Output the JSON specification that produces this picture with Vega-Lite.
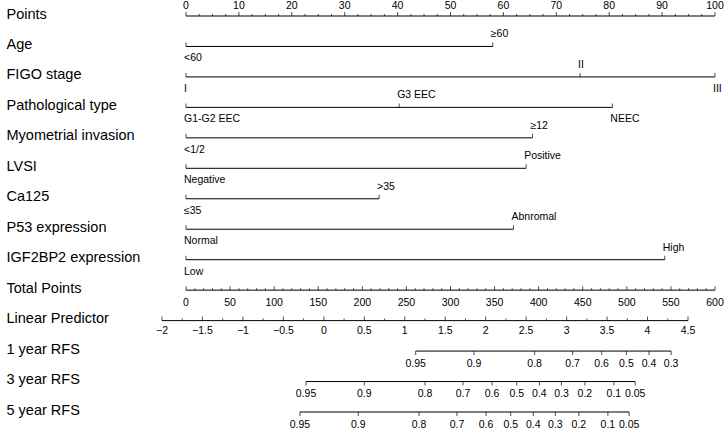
{
  "$schema": "https://vega.github.io/schema/vega-lite/v6.json",
  "width": 529,
  "height": 396,
  "autosize": {"type": "none"},
  "padding": {"left": 186, "top": 16, "right": 10, "bottom": 17},
  "background": "white",
  "config": {
    "view": {"stroke": null},
    "font": "Liberation Sans",
    "text": {"font": "Liberation Sans", "fontSize": 10.5, "color": "#000"},
    "axisY": {
      "domain": false, "ticks": false, "tickSize": 0, "grid": false,
      "labelAlign": "left", "labelPadding": 180, "labelFontSize": 14.5,
      "labelFont": "Liberation Sans", "labelColor": "#000", "labelBaseline": "middle",
      "labelLimit": 300, "title": null, "labelOffset": -2
    }
  },
  "datasets": {
    "factors": [
      {"row": "Age", "lab": "<60", "pts": 0, "side": "below"},
      {"row": "Age", "lab": "≥60", "pts": 58, "side": "above"},
      {"row": "FIGO stage", "lab": "I", "pts": 0, "side": "below"},
      {"row": "FIGO stage", "lab": "II", "pts": 74.5, "side": "above"},
      {"row": "FIGO stage", "lab": "III", "pts": 100, "side": "below"},
      {"row": "Pathological type", "lab": "G1-G2 EEC", "pts": 0, "side": "below"},
      {"row": "Pathological type", "lab": "G3 EEC", "pts": 40.3, "side": "above"},
      {"row": "Pathological type", "lab": "NEEC", "pts": 80.6, "side": "below"},
      {"row": "Myometrial invasion", "lab": "<1/2", "pts": 0, "side": "below"},
      {"row": "Myometrial invasion", "lab": "≥12", "pts": 65.5, "side": "above"},
      {"row": "LVSI", "lab": "Negative", "pts": 0, "side": "below"},
      {"row": "LVSI", "lab": "Positive", "pts": 64.3, "side": "above"},
      {"row": "Ca125", "lab": "≤35", "pts": 0, "side": "below"},
      {"row": "Ca125", "lab": ">35", "pts": 36.5, "side": "above"},
      {"row": "P53 expression", "lab": "Normal", "pts": 0, "side": "below"},
      {"row": "P53 expression", "lab": "Abnromal", "pts": 61.9, "side": "above"},
      {"row": "IGF2BP2 expression", "lab": "Low", "pts": 0, "side": "below"},
      {"row": "IGF2BP2 expression", "lab": "High", "pts": 90.5, "side": "above"}
    ],
    "ptsTicks": [
      {"row": "Points", "pts": 0, "lab": "0"}, {"row": "Points", "pts": 2.5, "lab": ""}, {"row": "Points", "pts": 5, "lab": ""}, {"row": "Points", "pts": 7.5, "lab": ""},
      {"row": "Points", "pts": 10, "lab": "10"}, {"row": "Points", "pts": 12.5, "lab": ""}, {"row": "Points", "pts": 15, "lab": ""}, {"row": "Points", "pts": 17.5, "lab": ""},
      {"row": "Points", "pts": 20, "lab": "20"}, {"row": "Points", "pts": 22.5, "lab": ""}, {"row": "Points", "pts": 25, "lab": ""}, {"row": "Points", "pts": 27.5, "lab": ""},
      {"row": "Points", "pts": 30, "lab": "30"}, {"row": "Points", "pts": 32.5, "lab": ""}, {"row": "Points", "pts": 35, "lab": ""}, {"row": "Points", "pts": 37.5, "lab": ""},
      {"row": "Points", "pts": 40, "lab": "40"}, {"row": "Points", "pts": 42.5, "lab": ""}, {"row": "Points", "pts": 45, "lab": ""}, {"row": "Points", "pts": 47.5, "lab": ""},
      {"row": "Points", "pts": 50, "lab": "50"}, {"row": "Points", "pts": 52.5, "lab": ""}, {"row": "Points", "pts": 55, "lab": ""}, {"row": "Points", "pts": 57.5, "lab": ""},
      {"row": "Points", "pts": 60, "lab": "60"}, {"row": "Points", "pts": 62.5, "lab": ""}, {"row": "Points", "pts": 65, "lab": ""}, {"row": "Points", "pts": 67.5, "lab": ""},
      {"row": "Points", "pts": 70, "lab": "70"}, {"row": "Points", "pts": 72.5, "lab": ""}, {"row": "Points", "pts": 75, "lab": ""}, {"row": "Points", "pts": 77.5, "lab": ""},
      {"row": "Points", "pts": 80, "lab": "80"}, {"row": "Points", "pts": 82.5, "lab": ""}, {"row": "Points", "pts": 85, "lab": ""}, {"row": "Points", "pts": 87.5, "lab": ""},
      {"row": "Points", "pts": 90, "lab": "90"}, {"row": "Points", "pts": 92.5, "lab": ""}, {"row": "Points", "pts": 95, "lab": ""}, {"row": "Points", "pts": 97.5, "lab": ""},
      {"row": "Points", "pts": 100, "lab": "100"}
    ],
    "tpTicks": [
      {"row": "Total Points", "tp": 0, "lab": "0"}, {"row": "Total Points", "tp": 10, "lab": ""}, {"row": "Total Points", "tp": 20, "lab": ""}, {"row": "Total Points", "tp": 30, "lab": ""}, {"row": "Total Points", "tp": 40, "lab": ""},
      {"row": "Total Points", "tp": 50, "lab": "50"}, {"row": "Total Points", "tp": 60, "lab": ""}, {"row": "Total Points", "tp": 70, "lab": ""}, {"row": "Total Points", "tp": 80, "lab": ""}, {"row": "Total Points", "tp": 90, "lab": ""},
      {"row": "Total Points", "tp": 100, "lab": "100"}, {"row": "Total Points", "tp": 110, "lab": ""}, {"row": "Total Points", "tp": 120, "lab": ""}, {"row": "Total Points", "tp": 130, "lab": ""}, {"row": "Total Points", "tp": 140, "lab": ""},
      {"row": "Total Points", "tp": 150, "lab": "150"}, {"row": "Total Points", "tp": 160, "lab": ""}, {"row": "Total Points", "tp": 170, "lab": ""}, {"row": "Total Points", "tp": 180, "lab": ""}, {"row": "Total Points", "tp": 190, "lab": ""},
      {"row": "Total Points", "tp": 200, "lab": "200"}, {"row": "Total Points", "tp": 210, "lab": ""}, {"row": "Total Points", "tp": 220, "lab": ""}, {"row": "Total Points", "tp": 230, "lab": ""}, {"row": "Total Points", "tp": 240, "lab": ""},
      {"row": "Total Points", "tp": 250, "lab": "250"}, {"row": "Total Points", "tp": 260, "lab": ""}, {"row": "Total Points", "tp": 270, "lab": ""}, {"row": "Total Points", "tp": 280, "lab": ""}, {"row": "Total Points", "tp": 290, "lab": ""},
      {"row": "Total Points", "tp": 300, "lab": "300"}, {"row": "Total Points", "tp": 310, "lab": ""}, {"row": "Total Points", "tp": 320, "lab": ""}, {"row": "Total Points", "tp": 330, "lab": ""}, {"row": "Total Points", "tp": 340, "lab": ""},
      {"row": "Total Points", "tp": 350, "lab": "350"}, {"row": "Total Points", "tp": 360, "lab": ""}, {"row": "Total Points", "tp": 370, "lab": ""}, {"row": "Total Points", "tp": 380, "lab": ""}, {"row": "Total Points", "tp": 390, "lab": ""},
      {"row": "Total Points", "tp": 400, "lab": "400"}, {"row": "Total Points", "tp": 410, "lab": ""}, {"row": "Total Points", "tp": 420, "lab": ""}, {"row": "Total Points", "tp": 430, "lab": ""}, {"row": "Total Points", "tp": 440, "lab": ""},
      {"row": "Total Points", "tp": 450, "lab": "450"}, {"row": "Total Points", "tp": 460, "lab": ""}, {"row": "Total Points", "tp": 470, "lab": ""}, {"row": "Total Points", "tp": 480, "lab": ""}, {"row": "Total Points", "tp": 490, "lab": ""},
      {"row": "Total Points", "tp": 500, "lab": "500"}, {"row": "Total Points", "tp": 510, "lab": ""}, {"row": "Total Points", "tp": 520, "lab": ""}, {"row": "Total Points", "tp": 530, "lab": ""}, {"row": "Total Points", "tp": 540, "lab": ""},
      {"row": "Total Points", "tp": 550, "lab": "550"}, {"row": "Total Points", "tp": 560, "lab": ""}, {"row": "Total Points", "tp": 570, "lab": ""}, {"row": "Total Points", "tp": 580, "lab": ""}, {"row": "Total Points", "tp": 590, "lab": ""},
      {"row": "Total Points", "tp": 600, "lab": "600"}
    ],
    "lpTicks": [
      {"row": "Linear Predictor", "lp": -2, "lab": "−2"}, {"row": "Linear Predictor", "lp": -1.75, "lab": ""},
      {"row": "Linear Predictor", "lp": -1.5, "lab": "−1.5"}, {"row": "Linear Predictor", "lp": -1.25, "lab": ""},
      {"row": "Linear Predictor", "lp": -1, "lab": "−1"}, {"row": "Linear Predictor", "lp": -0.75, "lab": ""},
      {"row": "Linear Predictor", "lp": -0.5, "lab": "−0.5"}, {"row": "Linear Predictor", "lp": -0.25, "lab": ""},
      {"row": "Linear Predictor", "lp": 0, "lab": "0"}, {"row": "Linear Predictor", "lp": 0.25, "lab": ""},
      {"row": "Linear Predictor", "lp": 0.5, "lab": "0.5"}, {"row": "Linear Predictor", "lp": 0.75, "lab": ""},
      {"row": "Linear Predictor", "lp": 1, "lab": "1"}, {"row": "Linear Predictor", "lp": 1.25, "lab": ""},
      {"row": "Linear Predictor", "lp": 1.5, "lab": "1.5"}, {"row": "Linear Predictor", "lp": 1.75, "lab": ""},
      {"row": "Linear Predictor", "lp": 2, "lab": "2"}, {"row": "Linear Predictor", "lp": 2.25, "lab": ""},
      {"row": "Linear Predictor", "lp": 2.5, "lab": "2.5"}, {"row": "Linear Predictor", "lp": 2.75, "lab": ""},
      {"row": "Linear Predictor", "lp": 3, "lab": "3"}, {"row": "Linear Predictor", "lp": 3.25, "lab": ""},
      {"row": "Linear Predictor", "lp": 3.5, "lab": "3.5"}, {"row": "Linear Predictor", "lp": 3.75, "lab": ""},
      {"row": "Linear Predictor", "lp": 4, "lab": "4"}, {"row": "Linear Predictor", "lp": 4.25, "lab": ""},
      {"row": "Linear Predictor", "lp": 4.5, "lab": "4.5"}
    ],
    "rfs": [
      {"row": "1 year RFS", "lab": "0.95", "lp": 1.135}, {"row": "1 year RFS", "lab": "0.9", "lp": 1.855},
      {"row": "1 year RFS", "lab": "0.8", "lp": 2.605}, {"row": "1 year RFS", "lab": "0.7", "lp": 3.074},
      {"row": "1 year RFS", "lab": "0.6", "lp": 3.433}, {"row": "1 year RFS", "lab": "0.5", "lp": 3.739},
      {"row": "1 year RFS", "lab": "0.4", "lp": 4.018}, {"row": "1 year RFS", "lab": "0.3", "lp": 4.291},
      {"row": "3 year RFS", "lab": "0.95", "lp": -0.22}, {"row": "3 year RFS", "lab": "0.9", "lp": 0.5},
      {"row": "3 year RFS", "lab": "0.8", "lp": 1.25}, {"row": "3 year RFS", "lab": "0.7", "lp": 1.719},
      {"row": "3 year RFS", "lab": "0.6", "lp": 2.078}, {"row": "3 year RFS", "lab": "0.5", "lp": 2.384},
      {"row": "3 year RFS", "lab": "0.4", "lp": 2.663}, {"row": "3 year RFS", "lab": "0.3", "lp": 2.936},
      {"row": "3 year RFS", "lab": "0.2", "lp": 3.226}, {"row": "3 year RFS", "lab": "0.1", "lp": 3.584},
      {"row": "3 year RFS", "lab": "0.05", "lp": 3.847},
      {"row": "5 year RFS", "lab": "0.95", "lp": -0.295}, {"row": "5 year RFS", "lab": "0.9", "lp": 0.425},
      {"row": "5 year RFS", "lab": "0.8", "lp": 1.176}, {"row": "5 year RFS", "lab": "0.7", "lp": 1.645},
      {"row": "5 year RFS", "lab": "0.6", "lp": 2.004}, {"row": "5 year RFS", "lab": "0.5", "lp": 2.309},
      {"row": "5 year RFS", "lab": "0.4", "lp": 2.588}, {"row": "5 year RFS", "lab": "0.3", "lp": 2.861},
      {"row": "5 year RFS", "lab": "0.2", "lp": 3.151}, {"row": "5 year RFS", "lab": "0.1", "lp": 3.51},
      {"row": "5 year RFS", "lab": "0.05", "lp": 3.773}
    ]
  },
  "encoding": {
    "y": {
      "field": "row", "type": "nominal", "title": null,
      "scale": {"type": "point", "padding": 0, "domain": ["Points", "Age", "FIGO stage", "Pathological type", "Myometrial invasion", "LVSI", "Ca125", "P53 expression", "IGF2BP2 expression", "Total Points", "Linear Predictor", "1 year RFS", "3 year RFS", "5 year RFS"]}
    }
  },
  "layer": [
    {
      "layer": [
        {
          "data": {"name": "ptsTicks"},
          "mark": {"type": "rule", "color": "#000", "strokeWidth": 1},
          "encoding": {
            "x": {"aggregate": "min", "field": "pts", "type": "quantitative", "axis": null, "scale": {"domain": [0, 100], "nice": false, "zero": false}},
            "x2": {"aggregate": "max", "field": "pts"}
          }
        },
        {
          "data": {"name": "ptsTicks"},
          "transform": [{"filter": "datum.lab != ''"}],
          "mark": {"type": "tick", "color": "#000", "thickness": 1, "size": 4, "yOffset": -2},
          "encoding": {"x": {"field": "pts", "type": "quantitative", "axis": null, "scale": {"domain": [0, 100], "nice": false, "zero": false}}}
        },
        {
          "data": {"name": "ptsTicks"},
          "transform": [{"filter": "datum.lab == ''"}],
          "mark": {"type": "tick", "color": "#000", "thickness": 1, "size": 2, "yOffset": -1},
          "encoding": {"x": {"field": "pts", "type": "quantitative", "axis": null, "scale": {"domain": [0, 100], "nice": false, "zero": false}}}
        },
        {
          "data": {"name": "ptsTicks"},
          "transform": [{"filter": "datum.lab != ''"}],
          "mark": {"type": "text", "align": "center", "baseline": "middle", "dy": -10},
          "encoding": {"x": {"field": "pts", "type": "quantitative", "axis": null, "scale": {"domain": [0, 100], "nice": false, "zero": false}}, "text": {"field": "lab"}}
        },
        {
          "data": {"name": "factors"},
          "mark": {"type": "rule", "color": "#000", "strokeWidth": 1},
          "encoding": {
            "x": {"aggregate": "min", "field": "pts", "type": "quantitative", "axis": null, "scale": {"domain": [0, 100], "nice": false, "zero": false}},
            "x2": {"aggregate": "max", "field": "pts"}
          }
        },
        {
          "data": {"name": "factors"},
          "mark": {"type": "tick", "color": "#000", "thickness": 1, "size": 4, "yOffset": -2},
          "encoding": {"x": {"field": "pts", "type": "quantitative", "axis": null, "scale": {"domain": [0, 100], "nice": false, "zero": false}}}
        },
        {
          "data": {"name": "factors"},
          "transform": [{"filter": "datum.side == 'below'"}],
          "mark": {"type": "text", "align": "left", "baseline": "middle", "dy": 12, "dx": -2},
          "encoding": {"x": {"field": "pts", "type": "quantitative", "axis": null, "scale": {"domain": [0, 100], "nice": false, "zero": false}}, "text": {"field": "lab"}}
        },
        {
          "data": {"name": "factors"},
          "transform": [{"filter": "datum.side == 'above'"}],
          "mark": {"type": "text", "align": "left", "baseline": "middle", "dy": -12, "dx": -2},
          "encoding": {"x": {"field": "pts", "type": "quantitative", "axis": null, "scale": {"domain": [0, 100], "nice": false, "zero": false}}, "text": {"field": "lab"}}
        }
      ]
    },
    {
      "data": {"name": "tpTicks"},
      "layer": [
        {
          "mark": {"type": "rule", "color": "#000", "strokeWidth": 1},
          "encoding": {
            "x": {"aggregate": "min", "field": "tp", "type": "quantitative", "axis": null, "scale": {"domain": [0, 600], "nice": false, "zero": false}},
            "x2": {"aggregate": "max", "field": "tp"}
          }
        },
        {
          "transform": [{"filter": "datum.lab != ''"}],
          "mark": {"type": "tick", "color": "#000", "thickness": 1, "size": 4, "yOffset": -2},
          "encoding": {"x": {"field": "tp", "type": "quantitative", "axis": null, "scale": {"domain": [0, 600], "nice": false, "zero": false}}}
        },
        {
          "transform": [{"filter": "datum.lab == ''"}],
          "mark": {"type": "tick", "color": "#000", "thickness": 1, "size": 2, "yOffset": -1},
          "encoding": {"x": {"field": "tp", "type": "quantitative", "axis": null, "scale": {"domain": [0, 600], "nice": false, "zero": false}}}
        },
        {
          "transform": [{"filter": "datum.lab != ''"}],
          "mark": {"type": "text", "align": "center", "baseline": "middle", "dy": 12.5},
          "encoding": {"x": {"field": "tp", "type": "quantitative", "axis": null, "scale": {"domain": [0, 600], "nice": false, "zero": false}}, "text": {"field": "lab"}}
        }
      ]
    },
    {
      "layer": [
        {
          "data": {"name": "lpTicks"},
          "mark": {"type": "rule", "color": "#000", "strokeWidth": 1},
          "encoding": {
            "x": {"aggregate": "min", "field": "lp", "type": "quantitative", "axis": null, "scale": {"domain": [-1.7034, 4.8336], "nice": false, "zero": false}},
            "x2": {"aggregate": "max", "field": "lp"}
          }
        },
        {
          "data": {"name": "lpTicks"},
          "transform": [{"filter": "datum.lab != ''"}],
          "mark": {"type": "tick", "color": "#000", "thickness": 1, "size": 4, "yOffset": -2},
          "encoding": {"x": {"field": "lp", "type": "quantitative", "axis": null, "scale": {"domain": [-1.7034, 4.8336], "nice": false, "zero": false}}}
        },
        {
          "data": {"name": "lpTicks"},
          "transform": [{"filter": "datum.lab == ''"}],
          "mark": {"type": "tick", "color": "#000", "thickness": 1, "size": 2, "yOffset": -1},
          "encoding": {"x": {"field": "lp", "type": "quantitative", "axis": null, "scale": {"domain": [-1.7034, 4.8336], "nice": false, "zero": false}}}
        },
        {
          "data": {"name": "lpTicks"},
          "transform": [{"filter": "datum.lab != ''"}],
          "mark": {"type": "text", "align": "center", "baseline": "middle", "dy": 10.5},
          "encoding": {"x": {"field": "lp", "type": "quantitative", "axis": null, "scale": {"domain": [-1.7034, 4.8336], "nice": false, "zero": false}}, "text": {"field": "lab"}}
        },
        {
          "data": {"name": "rfs"},
          "mark": {"type": "rule", "color": "#000", "strokeWidth": 1},
          "encoding": {
            "x": {"aggregate": "min", "field": "lp", "type": "quantitative", "axis": null, "scale": {"domain": [-1.7034, 4.8336], "nice": false, "zero": false}},
            "x2": {"aggregate": "max", "field": "lp"}
          }
        },
        {
          "data": {"name": "rfs"},
          "mark": {"type": "tick", "color": "#000", "thickness": 1, "size": 4, "yOffset": 2},
          "encoding": {"x": {"field": "lp", "type": "quantitative", "axis": null, "scale": {"domain": [-1.7034, 4.8336], "nice": false, "zero": false}}}
        },
        {
          "data": {"name": "rfs"},
          "mark": {"type": "text", "align": "center", "baseline": "middle", "dy": 12.5},
          "encoding": {"x": {"field": "lp", "type": "quantitative", "axis": null, "scale": {"domain": [-1.7034, 4.8336], "nice": false, "zero": false}}, "text": {"field": "lab"}}
        }
      ]
    }
  ],
  "resolve": {"scale": {"x": "independent"}}
}
